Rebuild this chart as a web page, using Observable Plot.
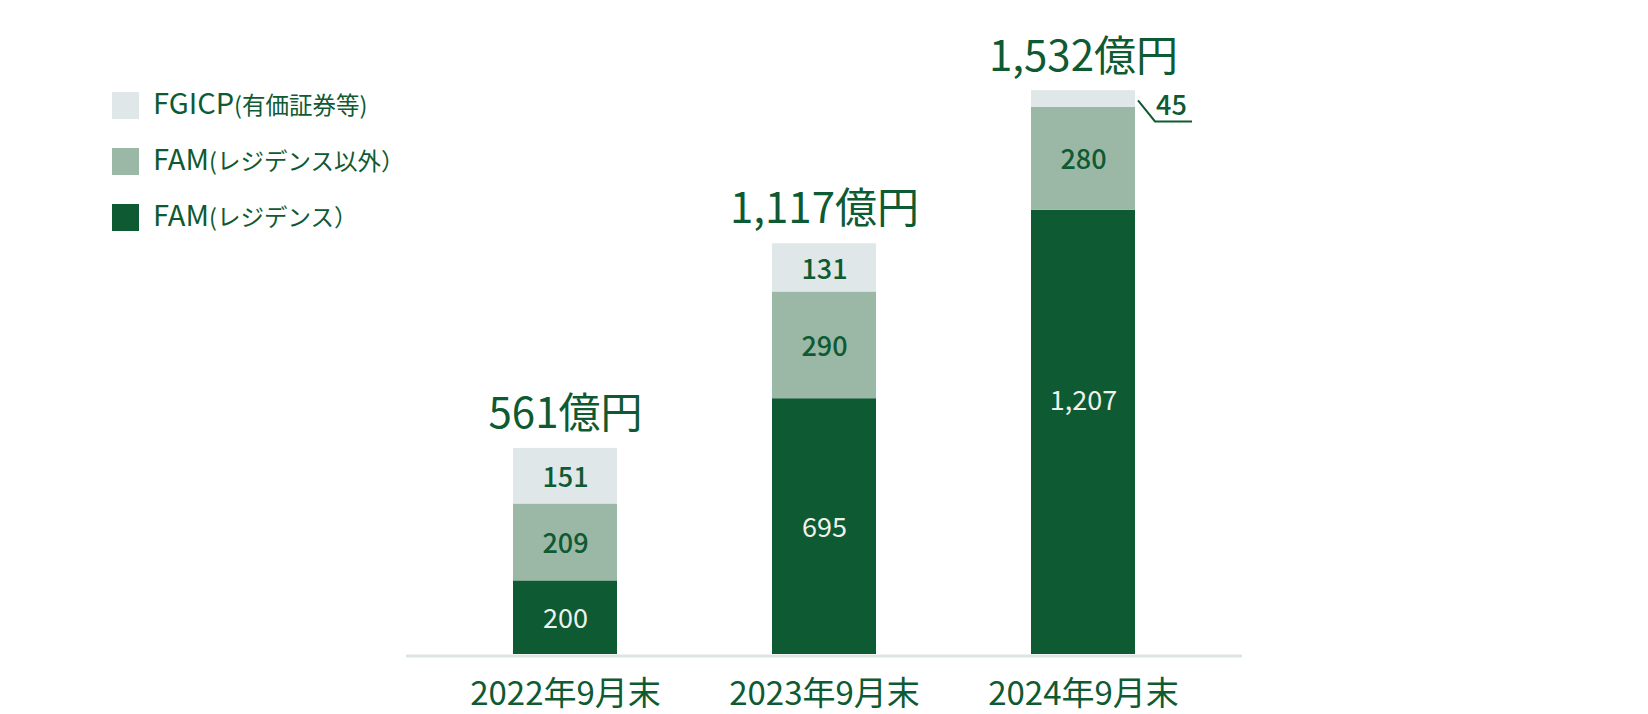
<!DOCTYPE html>
<html>
<head>
<meta charset="utf-8">
<script src="https://cdn.jsdelivr.net/npm/d3@7"></script>
<script src="https://cdn.jsdelivr.net/npm/@observablehq/plot@0.6"></script>
<style>
  html, body { margin: 0; padding: 0; background: #fff; }
  #wrap { position: relative; width: 1648px; height: 714px; font-family: "Noto Sans CJK JP", "Noto Sans", sans-serif; }
</style>
</head>
<body>
<div id="wrap"></div>
<script>
// ---- data ----
const categories = ["2022年9月末", "2023年9月末", "2024年9月末"];
const seriesNames = ["FAM(レジデンス）", "FAM(レジデンス以外）", "FGICP(有価証券等)"];
const legendMain = ["FAM", "FAM", "FGICP"];
const legendSub = ["(レジデンス）", "(レジデンス以外）", "(有価証券等)"];
const residence = [200, 695, 1207];
const nonResidence = [209, 290, 280];
const fgicp = [151, 131, 45];
const totals = [561, 1117, 1532];
const totalLabels = ["561億円", "1,117億円", "1,532億円"];
const seriesColors = ["#0e5a32", "#9bb8a6", "#dfe7e8"];
const labelColors = ["#eef2ee", "#0e5a32", "#0e5a32"];

const GREEN = "#0e5a32";
const FONT = "'Noto Sans CJK JP', 'Noto Sans', sans-serif";

// rows in stacking order (bottom first)
const seriesValues = [residence, nonResidence, fgicp];
const rows = [];
categories.forEach((cat, i) => {
  seriesNames.forEach((s, j) => {
    rows.push({cat, series: s, si: j, ci: i, value: seriesValues[j][i]});
  });
});
const totalRows = categories.map((cat, i) => ({cat, total: totals[i], label: totalLabels[i]}));

const isOutside = d => d.ci === 2 && d.si === 2;      // 45 callout
const isRaised = d => d.ci === 2 && d.si === 0;       // 1,207 placed higher
const fmt = v => v.toLocaleString("en-US");

function callout(index, scales, values, dimensions, context) {
  const sx = scales.x, sy = scales.y;
  const bw = typeof sx.bandwidth === "function" ? sx.bandwidth() : sx.bandwidth;
  const c = sx(categories[2]) + bw / 2;
  const ym = sy(residence[2] + nonResidence[2] + fgicp[2] / 2);
  const pts = [[c + 55, ym + 2], [c + 72, ym + 23], [c + 109, ym + 23]];
  const path = d3.create("svg:path")
    .attr("d", d3.line()(pts))
    .attr("fill", "none")
    .attr("stroke", GREEN)
    .attr("stroke-width", 2);
  return path.node();
}

const plot = Plot.plot({
  width: 1648,
  height: 714,
  marginLeft: 406,
  marginRight: 406,
  marginTop: 0,
  marginBottom: 60,
  style: {fontFamily: FONT, background: "transparent", overflow: "visible"},
  x: {domain: categories, paddingInner: 0.6, paddingOuter: 0.4077, axis: null},
  y: {domain: [0, 1777], axis: null},
  color: {domain: seriesNames, range: seriesColors},
  marks: [
    Plot.ruleY([0], {stroke: "#dde6e6", strokeWidth: 3, dy: 1.5}),
    Plot.barY(rows, Plot.stackY({x: "cat", y: "value", fill: "series", order: null})),
    Plot.text(rows, Plot.stackY({
      x: "cat", y: "value", order: null,
      text: d => (isOutside(d) || isRaised(d) || d.si === 0) ? null : fmt(d.value),
      fill: d => labelColors[d.si],
      fontSize: 27, fontWeight: 500, dy: 2
    })),
    Plot.text(rows, Plot.stackY({
      x: "cat", y: "value", order: null,
      text: d => (d.si === 0 && !isRaised(d)) ? fmt(d.value) : null,
      fill: d => labelColors[d.si],
      fontSize: 27, fontWeight: 400, dy: 2
    })),
    Plot.text(rows, Plot.stackY({
      x: "cat", y: "value", order: null,
      text: d => isRaised(d) ? fmt(d.value) : null,
      fill: d => labelColors[d.si],
      fontSize: 27, fontWeight: 400, dy: -31
    })),
    Plot.text(rows, Plot.stackY({
      x: "cat", y: "value", order: null,
      text: d => isOutside(d) ? fmt(d.value) : null,
      fill: GREEN, fontSize: 27, fontWeight: 500,
      lineAnchor: "bottom", dx: 88, dy: 16
    })),
    callout,
    Plot.text(totalRows, {
      x: "cat", y: "total", text: "label",
      fill: GREEN, fontSize: 42, fontWeight: 400,
      lineAnchor: "bottom", dy: -20
    }),
    Plot.axisX({tickSize: 0, tickPadding: 27, fontSize: 33, color: GREEN, label: null})
  ]
});

document.getElementById("wrap").appendChild(plot);

// ---- legend (top left) ----
const svg = d3.select(plot);
const legend = svg.append("g").attr("font-family", FONT).attr("text-anchor", "start");
const legendOrder = [2, 1, 0];
legendOrder.forEach((j, k) => {
  const top = 92 + k * 56;
  legend.append("rect")
    .attr("x", 112).attr("y", top).attr("width", 27).attr("height", 27)
    .attr("fill", seriesColors[j]);
  const t = legend.append("text")
    .attr("x", 153).attr("y", top + 22)
    .attr("text-anchor", "start")
    .attr("fill", GREEN);
  t.append("tspan").attr("font-size", 29).text(legendMain[j]);
  t.append("tspan").attr("font-size", 23.5).text(legendSub[j]);
});
</script>
</body>
</html>
